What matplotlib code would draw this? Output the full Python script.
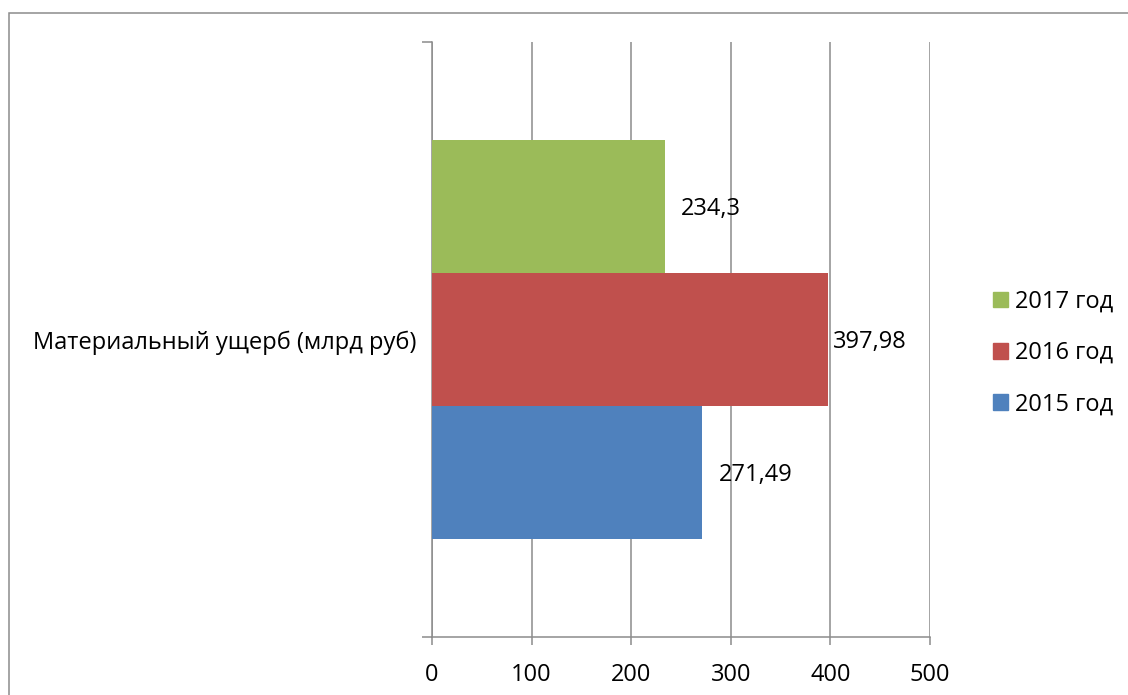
import matplotlib
matplotlib.use("Agg")
import matplotlib.pyplot as plt
from matplotlib.patches import Rectangle, Patch

plt.rcParams['font.family'] = ['Open Sans', 'DejaVu Sans']

category = "Материальный ущерб (млрд руб)"
series_names = ["2015 год", "2016 год", "2017 год"]
values = [271.49, 397.98, 234.3]
value_labels = ["271,49", "397,98", "234,3"]
colors = ["#4F81BD", "#C0504D", "#9BBB59"]
label_offsets = [12, 3.6, 11.5]
x_ticks = [0, 100, 200, 300, 400, 500]

FS = 17
W, H = 1128, 695
fig = plt.figure(figsize=(W / 100, H / 100), dpi=100)
ax = fig.add_axes([432 / W, 1 - 637 / H, (930 - 432) / W, (637 - 42) / H])

grid_c = "#8C8C8C"
bar_h = 0.2235
for i, (name, v, c) in enumerate(zip(series_names, values, colors)):
    y = (i - 1) * bar_h
    ax.barh(y, v, height=bar_h, color=c, label=name, zorder=3)
    ax.annotate(value_labels[i], xy=(v, y), xytext=(label_offsets[i], -1.5),
                textcoords="offset points", ha="left", va="center",
                fontsize=FS, color="black", zorder=4)

ax.set_xlim(0, 500)
ax.set_ylim(-0.5, 0.5)
ax.set_xticks(x_ticks)
ax.set_xticklabels([str(t) for t in x_ticks])
ax.xaxis.grid(True, color=grid_c, linewidth=1.1, zorder=0)
ax.tick_params(axis="x", direction="out", length=6, width=1.1, color=grid_c,
               labelsize=FS, pad=12.5)

ax.set_yticks([0])
ax.set_yticklabels([category])
ax.set_yticks([-0.5, 0.5], minor=True)
ax.tick_params(axis="y", which="major", length=0, labelsize=FS, pad=11)
ax.tick_params(axis="y", which="minor", direction="out", length=7, width=1.1,
               color=grid_c)

for s in ["top", "right"]:
    ax.spines[s].set_visible(False)
for s in ["left", "bottom"]:
    ax.spines[s].set_color(grid_c)
    ax.spines[s].set_linewidth(1.1)

handles = [Patch(color=c) for c in colors][::-1]
labels = series_names[::-1]
fig.legend(handles, labels, loc="center left",
           bbox_to_anchor=(993 / W, 1 - 353 / H), frameon=False,
           fontsize=FS, borderpad=0, borderaxespad=0,
           handlelength=0.65, handleheight=0.65,
           handletextpad=0.3, labelspacing=1.15)

fig.patches.append(Rectangle((9 / W, -0.1), 1.2, 1.1 - 13 / H,
                             transform=fig.transFigure, fill=False,
                             edgecolor=grid_c, linewidth=1.1))

fig.savefig("out.png", dpi=100)
